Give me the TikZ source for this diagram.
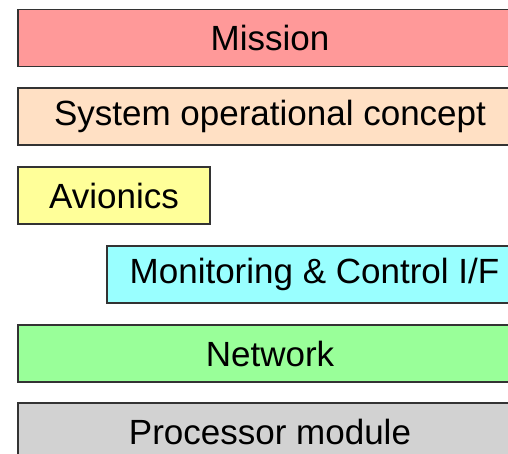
\documentclass[tikz,border=0pt]{standalone}
\usepackage{fontspec}
\setmainfont{Liberation Sans}

\definecolor{missionred}{HTML}{FF9999}
\definecolor{conceptpeach}{HTML}{FFE0C4}
\definecolor{avionicsyellow}{HTML}{FFFF99}
\definecolor{monitorcyan}{HTML}{99FFFF}
\definecolor{networkgreen}{HTML}{99FF99}
\definecolor{processorgray}{HTML}{D2D2D2}

\begin{document}
\begin{tikzpicture}[x=1pt,y=1pt,
  layer/.style={draw=black!80, line width=1.5pt, anchor=west, align=center,
    minimum height=57pt, inner sep=0pt, outer sep=0pt,
    font=\fontsize{35}{40}\selectfont}]
\useasboundingbox (0,0) rectangle (508,-454);
\clip (0,0) rectangle (508,-454);
\node[layer, fill=missionred, minimum width=504pt] (m) at (18,-38) {Mission};
\node[layer, fill=conceptpeach, minimum width=504pt] (soc) at (18,-116.5) {System operational concept};
\node[layer, fill=avionicsyellow, minimum width=192pt] (av) at (18,-195.5) {Avionics};
\node[layer, fill=monitorcyan, minimum width=415pt] (mc) at (107,-274.5) {Monitoring \& Control I/F};
\node[layer, fill=networkgreen, minimum width=504pt] (nw) at (18,-353.5) {Network};
\node[layer, fill=processorgray, minimum width=504pt] (pm) at (18,-431.5) {Processor module};
\end{tikzpicture}
\end{document}
